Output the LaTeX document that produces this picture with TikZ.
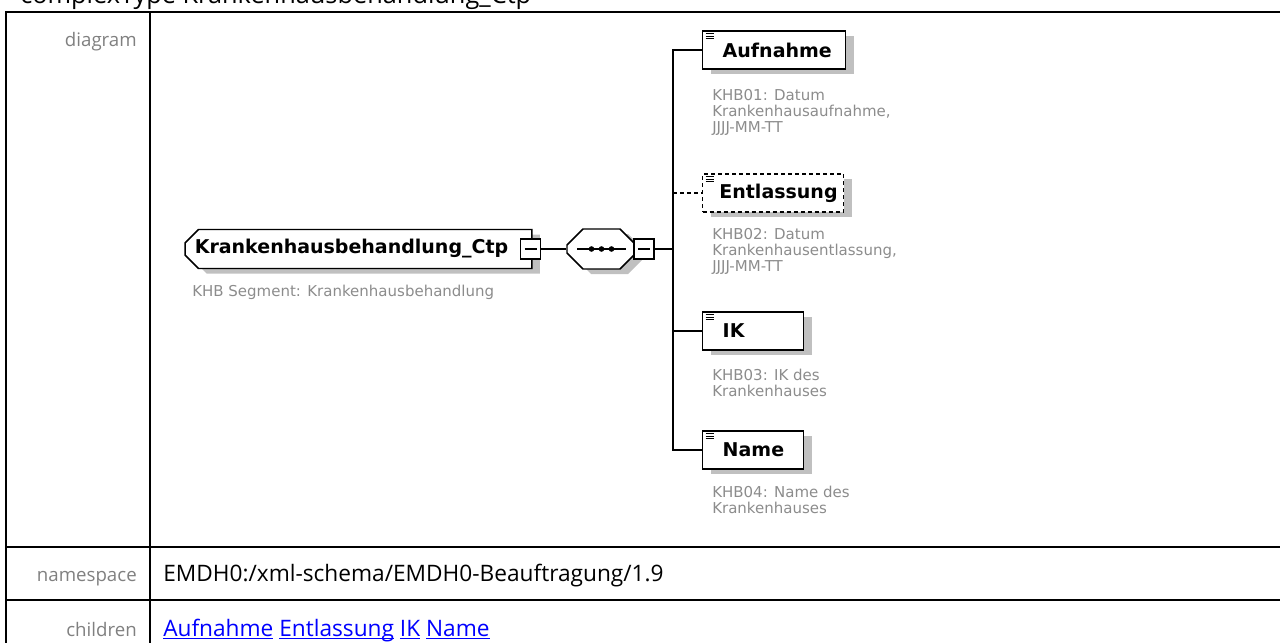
\documentclass[tikz,border=0pt]{standalone}
\usepackage{fontspec}
\setmainfont{DejaVu Sans}
\newfontfamily\tblfont{Open Sans}
\usepackage{tikz}
\usetikzlibrary{shapes.misc,shadows,positioning}

\definecolor{notegray}{HTML}{8C8C8C}
\definecolor{lblgray}{HTML}{808080}
\definecolor{shadowgray}{HTML}{C0C0C0}
\definecolor{linkblue}{HTML}{0000FF}

\newcommand{\lnk}[1]{\underline{\smash{#1}}}

\begin{document}
\begin{tikzpicture}[x=0.75pt, y=-0.75pt,
        every node/.style={inner sep=0pt},
        tbl/.style={line width=2pt},
        conn/.style={line width=1.1pt},
        opt/.style={dash pattern=on 3pt off 2.25pt},
        shade/.style={general shadow={fill=shadowgray, shadow xshift=6pt, shadow yshift=-3.75pt}},
        elem/.style={draw, fill=white, line width=1.1pt, shade,
                font=\fontsize{14.25}{16}\selectfont\bfseries,
                minimum height=28.5pt, inner xsep=7.5pt, text width=#1, align=left, anchor=west,
                path picture={\foreach \d in {2,3.9,5.8}
                        \draw[solid, black, line width=0.6pt] ([xshift=2.25pt,yshift=-\d pt]path picture bounding box.north west) -- ++(6pt,0);}},
        ctpbox/.style={draw, fill=white, line width=1.1pt, shade, chamfered rectangle,
                chamfered rectangle corners={north west,south west},
                chamfered rectangle xsep=5pt, chamfered rectangle ysep=5pt,
                font=\fontsize{14.25}{16}\selectfont\bfseries,
                minimum width=260pt, minimum height=29.25pt},
        seqbox/.style={draw, fill=white, line width=1.1pt, shade, chamfered rectangle,
                chamfered rectangle xsep=6pt, chamfered rectangle ysep=6pt,
                minimum width=51.75pt, minimum height=30pt,
                path picture={\draw[black, line width=1pt] ([xshift=7.5pt]path picture bounding box.west) -- ([xshift=-7.5pt]path picture bounding box.east);
                        \foreach \d in {-7.5,0,7.5}
                        \fill[black] ([xshift=\d pt]path picture bounding box.center) circle (2.1pt);}},
        minus/.style={draw, fill=white, line width=1.1pt, minimum size=15pt,
                path picture={\draw[black, line width=0.8pt] ([xshift=3pt]path picture bounding box.west) -- ([xshift=-3pt]path picture bounding box.east);}},
        note/.style={anchor=north west, align=left, text=notegray, font=\fontsize{11.25}{12}\selectfont},
        lbl/.style={anchor=base east, text=lblgray, font=\tblfont\fontsize{14}{16}\selectfont},
        val/.style={anchor=base west, font=\tblfont\fontsize{17}{20}\selectfont}
        ]
        \useasboundingbox (0,0) rectangle (1280,642);

        % ---------------- Table frame ----------------
        \node[anchor=base west, font=\tblfont\fontsize{19}{22}\selectfont] (title) at (20,4) {complexType Krankenhausbehandlung\_Ctp};
        \draw[tbl] (6,650) -- (6,12) -- (1290,12);
        \draw[tbl] (150,12) -- (150,650);
        \draw[tbl] (6,547) -- (1290,547);
        \draw[tbl] (6,600) -- (1290,600);

        \node[lbl] (diagram)   at (137,47)  {diagram};
        \node[lbl] (namespace) at (137,581) {namespace};
        \node[lbl] (children)  at (137,636) {children};
        \node[val] (nsvalue)   at (163,581) {EMDH0:/xml-schema/EMDH0-Beauftragung/1.9};
        \node[val, text=linkblue] (links) at (163,636) {\lnk{Aufnahme} \lnk{Entlassung} \lnk{IK} \lnk{Name}};

        % ---------------- Complex type ----------------
        \node[ctpbox] (ctp) at (358.5,249) {Krankenhausbehandlung\_Ctp\hspace*{10.5pt}};
        \node[note] (ctpnote) at (192,285) {KHB Segment: Krankenhausbehandlung};
        \node[minus] (ctpmin) at (530.5,249) {};

        % ---------------- Sequence ----------------
        \node[seqbox] (seq) at (601.5,249) {\phantom{\rule[-8pt]{38pt}{16pt}}};
        \node[minus] (seqmin) at (644,249) {};
        \coordinate (fork) at (673,249);

        % ---------------- Children ----------------
        \node[elem=92.25pt] (aufnahme) at (702,50) {\mbox{\hspace*{7.5pt}Aufnahme}};
        \node[note] (aufnahmenote) at (712,89) {KHB01: Datum\\Krankenhausaufnahme,\\JJJJ-MM-TT};

        \node[elem=90.75pt, opt] (entlassung) at (702,193) {\mbox{\hspace*{5pt}Entlassung}};
        \node[note] (entlassungnote) at (712,228) {KHB02: Datum\\Krankenhausentlassung,\\JJJJ-MM-TT};

        \node[elem=60.75pt] (ik) at (702,331) {\mbox{\hspace*{7.5pt}IK}};
        \node[note] (iknote) at (712,369) {KHB03: IK des\\Krankenhauses};

        \node[elem=60.75pt] (name) at (702,450) {\mbox{\hspace*{7.5pt}Name}};
        \node[note] (namenote) at (712,486) {KHB04: Name des\\Krankenhauses};

        % ---------------- Connectors ----------------
        \draw[conn] (ctpmin) -- (seq);
        \draw[conn] (seqmin) -- (fork);
        \draw[conn, opt] (fork) |- (entlassung);
        \draw[conn] (fork) |- (aufnahme);
        \draw[conn] (fork) |- (ik);
        \draw[conn] (fork) |- (name);
\end{tikzpicture}
\end{document}
